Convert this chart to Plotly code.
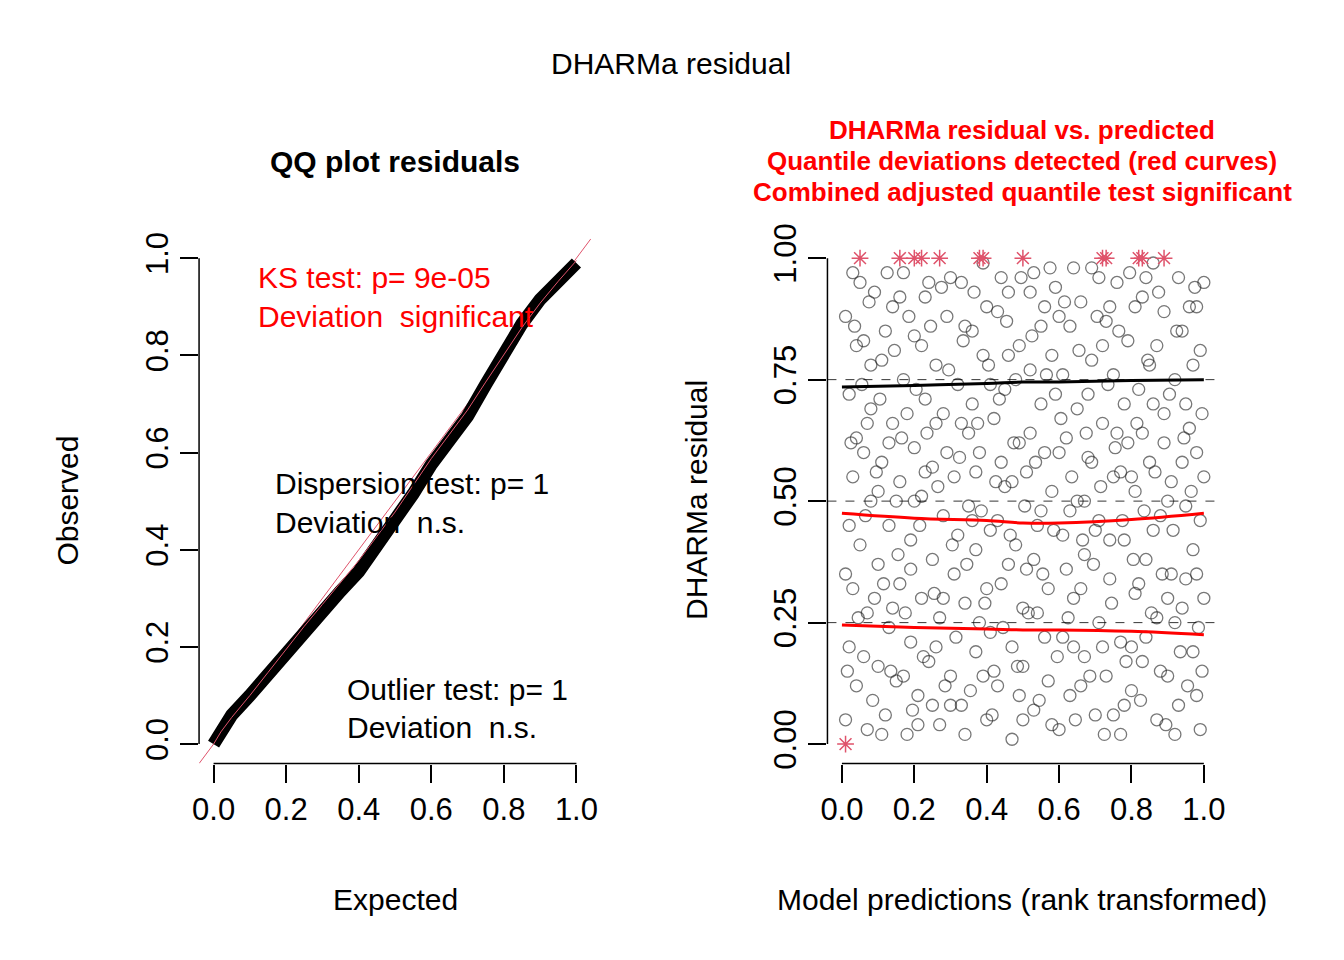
import plotly.graph_objects as go

# QQ data (expected vs observed quantiles)
qq_exp = [0.0, 0.02, 0.05, 0.1, 0.15, 0.2, 0.25, 0.3, 0.35, 0.4, 0.45, 0.5, 0.55, 0.6, 0.65, 0.7, 0.75, 0.8, 0.85, 0.9, 0.95, 1.0]
qq_obs = [0.0, 0.03, 0.06, 0.1, 0.145, 0.19, 0.235, 0.275, 0.315, 0.355, 0.405, 0.455, 0.515, 0.575, 0.625, 0.675, 0.74, 0.805, 0.865, 0.915, 0.955, 0.99]

# Residual scatter (rank-transformed prediction, residual)
pts = [
(0.01,0.05),(0.02,0.2),(0.01,0.35),(0.03,0.55),(0.02,0.72),(0.01,0.88),(0.03,0.97),(0.04,0.12),(0.05,0.41),(0.04,0.63),
(0.06,0.83),(0.07,0.03),(0.07,0.27),(0.08,0.5),(0.08,0.69),(0.09,0.93),(0.1,0.16),(0.1,0.37),(0.11,0.58),(0.11,0.79),
(0.12,0.06),(0.13,0.24),(0.13,0.45),(0.14,0.66),(0.14,0.9),(0.15,0.13),(0.16,0.33),(0.16,0.54),(0.17,0.75),(0.17,0.97),
(0.18,0.02),(0.19,0.21),(0.19,0.42),(0.2,0.61),(0.2,0.84),(0.21,0.1),(0.22,0.3),(0.22,0.51),(0.23,0.71),(0.23,0.92),
(0.24,0.17),(0.25,0.38),(0.25,0.57),(0.26,0.78),(0.27,0.04),(0.27,0.26),(0.28,0.47),(0.28,0.68),(0.29,0.88),(0.3,0.14),
(0.31,0.35),(0.31,0.55),(0.32,0.74),(0.33,0.95),(0.33,0.08),(0.34,0.29),(0.35,0.49),(0.35,0.64),(0.36,0.85),(0.37,0.19),
(0.37,0.4),(0.38,0.6),(0.39,0.8),(0.39,0.99),(0.4,0.05),(0.41,0.23),(0.41,0.44),(0.42,0.67),(0.43,0.89),(0.43,0.12),
(0.44,0.33),(0.45,0.53),(0.45,0.73),(0.46,0.93),(0.47,0.01),(0.47,0.2),(0.48,0.41),(0.49,0.62),(0.49,0.82),(0.5,0.16),
(0.51,0.36),(0.51,0.56),(0.52,0.77),(0.53,0.97),(0.53,0.07),(0.54,0.27),(0.55,0.48),(0.55,0.7),(0.56,0.9),(0.57,0.13),
(0.57,0.32),(0.58,0.52),(0.59,0.72),(0.59,0.94),(0.6,0.03),(0.61,0.22),(0.61,0.43),(0.62,0.63),(0.63,0.86),(0.63,0.1),
(0.64,0.3),(0.65,0.5),(0.65,0.69),(0.66,0.91),(0.67,0.18),(0.67,0.39),(0.68,0.59),(0.69,0.79),(0.69,0.98),(0.7,0.06),
(0.71,0.25),(0.71,0.46),(0.72,0.66),(0.73,0.87),(0.73,0.14),(0.74,0.34),(0.75,0.55),(0.75,0.76),(0.76,0.95),(0.77,0.02),
(0.77,0.21),(0.78,0.42),(0.79,0.62),(0.79,0.83),(0.8,0.11),(0.81,0.31),(0.81,0.52),(0.82,0.73),(0.83,0.92),(0.83,0.17),
(0.84,0.38),(0.85,0.58),(0.85,0.78),(0.86,0.99),(0.87,0.05),(0.87,0.26),(0.88,0.47),(0.89,0.68),(0.89,0.89),(0.9,0.14),
(0.91,0.35),(0.91,0.54),(0.92,0.75),(0.93,0.96),(0.93,0.08),(0.94,0.28),(0.95,0.49),(0.95,0.7),(0.96,0.9),(0.97,0.19),
(0.97,0.4),(0.98,0.6),(0.99,0.81),(0.99,0.03),(1.0,0.3),(1.0,0.55),(1.0,0.95),(0.02,0.45),(0.05,0.95),(0.06,0.6),
(0.09,0.3),(0.12,0.85),(0.15,0.5),(0.18,0.68),(0.21,0.04),(0.24,0.95),(0.26,0.2),(0.29,0.6),(0.32,0.43),(0.34,0.02),
(0.36,0.7),(0.38,0.25),(0.4,0.9),(0.42,0.15),(0.44,0.58),(0.46,0.37),(0.48,0.75),(0.5,0.05),(0.52,0.93),(0.54,0.45),
(0.56,0.22),(0.58,0.8),(0.6,0.6),(0.62,0.36),(0.64,0.98),(0.66,0.12),(0.68,0.72),(0.7,0.44),(0.72,0.2),(0.74,0.9),
(0.76,0.64),(0.78,0.08),(0.8,0.55),(0.82,0.33),(0.84,0.96),(0.86,0.7),(0.88,0.15),(0.9,0.5),(0.92,0.25),(0.94,0.85),
(0.96,0.65),(0.98,0.1),(0.03,0.32),(0.06,0.18),(0.08,0.78),(0.11,0.02),(0.13,0.62),(0.16,0.92),(0.19,0.36),(0.22,0.82),
(0.25,0.08),(0.28,0.3),(0.3,0.96),(0.33,0.66),(0.36,0.46),(0.39,0.14),(0.41,0.74),(0.44,0.96),(0.47,0.54),(0.5,0.28),
(0.52,0.64),(0.55,0.86),(0.58,0.04),(0.61,0.76),(0.63,0.48),(0.66,0.32),(0.69,0.58),(0.72,0.82),(0.75,0.06),(0.78,0.7),
(0.81,0.9),(0.84,0.22),(0.86,0.44),(0.89,0.62),(0.92,0.02),(0.95,0.34),(0.97,0.78),(0.99,0.46),(0.04,0.82),(0.07,0.66),
(0.1,0.52),(0.14,0.28),(0.17,0.14),(0.2,0.5),(0.23,0.56),(0.26,0.66),(0.3,0.08),(0.34,0.86),(0.37,0.56),(0.4,0.32),
(0.43,0.46),(0.46,0.8),(0.49,0.1),(0.53,0.38),(0.56,0.6),(0.6,0.88),(0.64,0.2),(0.67,0.5),(0.71,0.96),(0.74,0.42),
(0.77,0.56),(0.8,0.2),(0.83,0.64),(0.87,0.82),(0.9,0.3),(0.94,0.58),(0.98,0.9),(0.98,0.35),
(0.015,0.15),(0.025,0.62),(0.035,0.86),(0.045,0.26),(0.055,0.74),(0.065,0.47),(0.075,0.91),(0.085,0.09),(0.095,0.56),(0.105,0.71),
(0.115,0.33),(0.125,0.97),(0.135,0.15),(0.145,0.81),(0.155,0.39),(0.165,0.63),(0.175,0.27),(0.185,0.88),(0.195,0.07),(0.205,0.73),
(0.215,0.45),(0.225,0.18),(0.235,0.64),(0.245,0.86),(0.255,0.31),(0.265,0.53),(0.275,0.94),(0.285,0.12),(0.295,0.77),(0.305,0.41),
(0.315,0.22),(0.325,0.59),(0.335,0.83),(0.345,0.37),(0.355,0.11),(0.365,0.93),(0.375,0.66),(0.385,0.48),(0.395,0.29),(0.405,0.78),
(0.415,0.06),(0.425,0.54),(0.435,0.71),(0.445,0.24),(0.455,0.87),(0.465,0.43),(0.475,0.62),(0.485,0.16),(0.495,0.96),(0.505,0.49),
(0.515,0.27),(0.525,0.84),(0.535,0.58),(0.545,0.09),(0.555,0.35),(0.565,0.76),(0.575,0.98),(0.585,0.44),(0.595,0.18),(0.605,0.67),
(0.615,0.91),(0.625,0.26),(0.635,0.55),(0.645,0.05),(0.655,0.81),(0.665,0.42),(0.675,0.64),(0.685,0.14),(0.695,0.37),(0.705,0.88),
(0.715,0.53),(0.725,0.02),(0.735,0.74),(0.745,0.29),(0.755,0.61),(0.765,0.85),(0.775,0.46),(0.785,0.17),(0.795,0.97),(0.805,0.38),
(0.815,0.66),(0.825,0.09),(0.835,0.48),(0.845,0.79),(0.855,0.27),(0.865,0.56),(0.875,0.93),(0.885,0.35),(0.895,0.04),(0.905,0.72),
(0.915,0.44),(0.925,0.85),(0.935,0.19),(0.945,0.63),(0.955,0.12),(0.965,0.52),(0.975,0.94),(0.985,0.24),(0.995,0.68),(0.995,0.15),
]
res_x = [p[0] for p in pts]
res_y = [p[1] for p in pts]

# Quantile regression curves
qx = [0.0, 0.2, 0.4, 0.5, 0.6, 0.8, 1.0]
q25 = [0.245, 0.24, 0.237, 0.235, 0.235, 0.232, 0.225]
q50 = [0.475, 0.465, 0.46, 0.455, 0.455, 0.462, 0.475]
q75 = [0.735, 0.738, 0.742, 0.745, 0.745, 0.748, 0.75]

# Outlier stars
star_x = [0.05, 0.16, 0.2, 0.22, 0.27, 0.38, 0.39, 0.5, 0.72, 0.73, 0.82, 0.83, 0.89, 0.01]
star_y = [1, 1, 1, 1, 1, 1, 1, 1, 1, 1, 1, 1, 1, 0]

ticks = [0, 0.2, 0.4, 0.6, 0.8, 1.0]
tick_lbl = ["0.0", "0.2", "0.4", "0.6", "0.8", "1.0"]
rticks = [0, 0.25, 0.5, 0.75, 1.0]
rtick_lbl = ["0.00", "0.25", "0.50", "0.75", "1.00"]

F = "Liberation Sans, Arial"

def PX(X):
    return (X - 9) / 1344

def PY(Y):
    return 1 - ((Y - 18) / 0.984) / 960

fig = go.Figure()
fig.add_trace(go.Scatter(x=[-0.04, 1.04], y=[-0.04, 1.04], mode="lines",
                         line=dict(color="#DF536B", width=1), xaxis="x", yaxis="y"))
fig.add_trace(go.Scatter(x=qq_exp, y=qq_obs, mode="lines", line=dict(color="black", width=13),
                         xaxis="x", yaxis="y"))
fig.add_trace(go.Scatter(x=qq_exp, y=[(a+b)/2 for a, b in zip(qq_exp, qq_obs)], mode="lines",
                         line=dict(color="#DF536B", width=1), xaxis="x", yaxis="y"))
fig.add_trace(go.Scatter(x=res_x, y=res_y, mode="markers",
                         marker=dict(symbol="circle-open", size=12, color="rgba(30,30,30,0.6)", line=dict(width=1.3)),
                         xaxis="x2", yaxis="y2"))
for yy, col in [(q25, "red"), (q50, "red"), (q75, "black")]:
    fig.add_trace(go.Scatter(x=qx, y=yy, mode="lines", line=dict(color=col, width=3, shape="spline"),
                             xaxis="x2", yaxis="y2"))
fig.add_trace(go.Scatter(x=star_x, y=star_y, mode="markers",
                         marker=dict(symbol="asterisk-open", size=14, color="#DF536B", line=dict(width=1.5, color="#DF536B")),
                         xaxis="x2", yaxis="y2"))

ax = dict(showgrid=False, zeroline=False, showline=False, ticks="outside", ticklen=18, tickwidth=1.5,
          tickcolor="black", tickfont=dict(size=31, family=F, color="black"))
ydom = [PY(763), PY(235)]
fig.update_layout(
    width=1344, height=960, margin=dict(l=0, r=0, t=0, b=0), showlegend=False,
    plot_bgcolor="white", paper_bgcolor="white",
    xaxis=dict(ax, domain=[PX(195), PX(591)], range=[-0.04, 1.04], tickvals=ticks, ticktext=tick_lbl, anchor="y"),
    yaxis=dict(ax, domain=ydom, range=[-0.04, 1.04], tickvals=ticks, ticktext=tick_lbl, tickangle=-90, anchor="x"),
    xaxis2=dict(ax, domain=[PX(830), PX(1225)], range=[-0.04, 1.04], tickvals=ticks, ticktext=tick_lbl, anchor="y2"),
    yaxis2=dict(ax, domain=ydom, range=[-0.04, 1.04], tickvals=rticks, ticktext=rtick_lbl, tickangle=-90, anchor="x2"),
)
shapes = [
    dict(type="line", xref="x", yref="y domain", x0=0, x1=1, y0=0, y1=0, line=dict(color="black", width=1.5)),
    dict(type="line", xref="x domain", yref="y", x0=0, x1=0, y0=0, y1=1, line=dict(color="black", width=1.5)),
    dict(type="line", xref="x2", yref="y2 domain", x0=0, x1=1, y0=0, y1=0, line=dict(color="black", width=1.5)),
    dict(type="line", xref="x2 domain", yref="y2", x0=0, x1=0, y0=0, y1=1, line=dict(color="black", width=1.5)),
]
for v in [0.25, 0.5, 0.75]:
    shapes.append(dict(type="line", xref="x2 domain", yref="y2", x0=0, x1=1, y0=v, y1=v,
                       line=dict(color="black", width=0.8, dash="dash")))
fig.update_layout(shapes=shapes)

def ann(x, y, t, size=30, color="black", bold=False, angle=0, xanchor="center"):
    fig.add_annotation(x=PX(x), y=PY(y), xref="paper", yref="paper", text=("<b>%s</b>" % t) if bold else t,
                       showarrow=False, textangle=angle, xanchor=xanchor, yanchor="middle",
                       font=dict(size=size, color=color, family=F))

ann(672, 59, "DHARMa residual", 30)
ann(393, 157, "QQ plot residuals", 30, bold=True)
ann(253, 274, "KS test: p= 9e-05", 30, "red", xanchor="left")
ann(253, 313, "Deviation  significant", 30, "red", xanchor="left")
ann(270, 481, "Dispersion test: p= 1", 30, xanchor="left")
ann(270, 520, "Deviation  n.s.", 30, xanchor="left")
ann(342, 689, "Outlier test: p= 1", 30, xanchor="left")
ann(342, 727, "Deviation  n.s.", 30, xanchor="left")
ann(62, 498, "Observed", 30, angle=-90)
ann(393, 900, "Expected", 30)
ann(1027, 126, "DHARMa residual vs. predicted", 26, "red", bold=True)
ann(1027, 157, "Quantile deviations detected (red curves)", 26, "red", bold=True)
ann(1027, 188, "Combined adjusted quantile test significant", 26, "red", bold=True)
ann(697, 498, "DHARMa residual", 30, angle=-90)
ann(1027, 900, "Model predictions (rank transformed)", 30)

fig.write_html("out.html")
